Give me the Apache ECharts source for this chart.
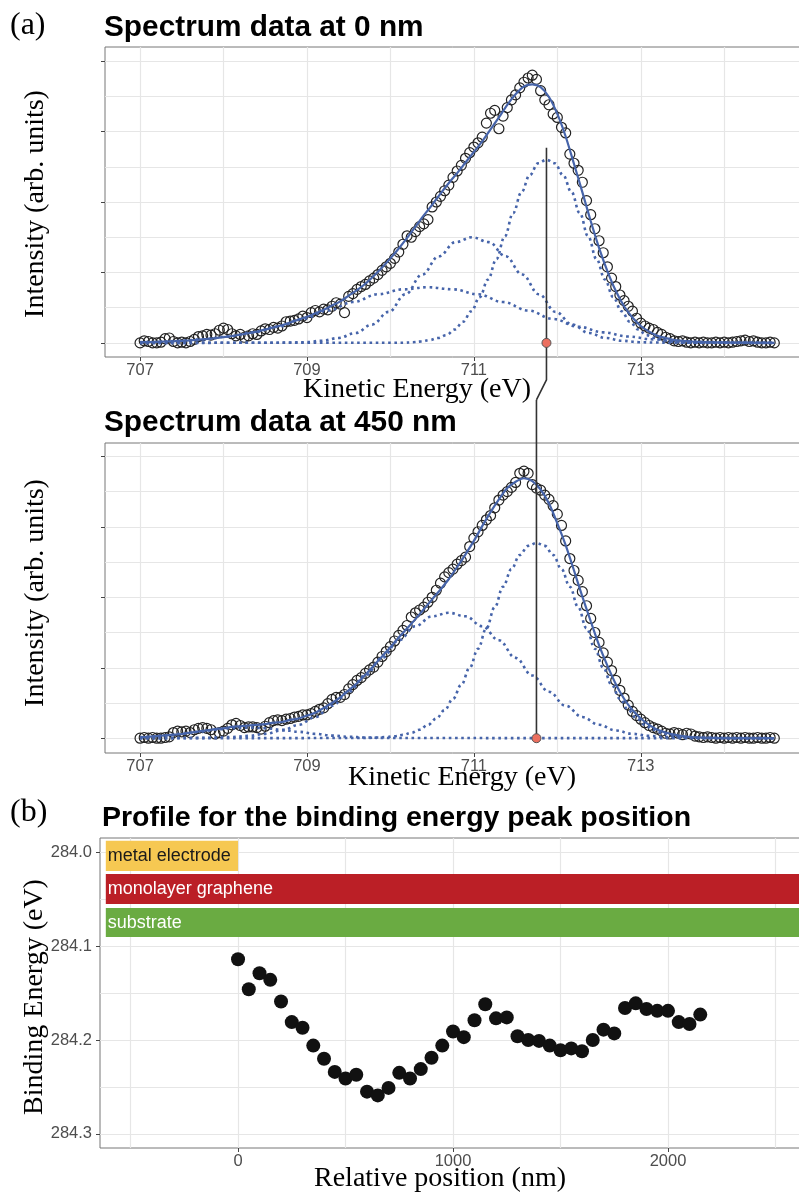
<!DOCTYPE html>
<html><head><meta charset="utf-8">
<script src="https://cdn.jsdelivr.net/npm/echarts@6/dist/echarts.min.js"></script>
<style>html,body{margin:0;padding:0;background:#fff}#c{width:799px;height:1193px}</style>
</head><body><div id="c"></div>
<script>
// ---------------- DATA ----------------
// Panel (a) top: spectrum at 0 nm (intensity in arbitrary units, baseline = 0)
const energyStart = 707.0;
const circleStep = 0.05;
const fitStep = 0.1;
const circles0nm = [0.00,0.03,0.02,0.00,0.00,0.01,0.06,0.07,0.02,0.00,0.01,0.00,0.02,0.05,0.09,0.10,0.12,0.11,0.13,0.18,
0.21,0.19,0.13,0.10,0.12,0.08,0.10,0.13,0.12,0.17,0.20,0.19,0.22,0.21,0.24,0.30,0.31,0.32,0.34,0.38,
0.36,0.43,0.46,0.44,0.48,0.47,0.52,0.57,0.55,0.43,0.66,0.70,0.76,0.80,0.83,0.88,0.92,0.97,1.03,1.08,
1.13,1.20,1.29,1.40,1.52,1.50,1.58,1.65,1.69,1.75,1.93,2.00,2.08,2.16,2.24,2.35,2.44,2.52,2.62,2.70,
2.78,2.84,2.92,3.12,3.26,3.30,3.04,3.22,3.34,3.45,3.52,3.62,3.70,3.76,3.80,3.74,3.58,3.45,3.38,3.25,
3.20,3.06,2.98,2.68,2.55,2.45,2.28,2.02,1.82,1.62,1.45,1.28,1.08,0.92,0.80,0.68,0.60,0.52,0.45,0.35,
0.28,0.24,0.21,0.19,0.15,0.12,0.08,0.06,0.03,0.02,0.03,0.01,0.00,0.01,0.00,0.01,0.00,0.00,0.01,0.00,
0.01,0.00,0.01,0.02,0.03,0.04,0.02,0.03,0.01,0.00,0.00,0.01,0.00];
const fit0nm = [0.01,0.01,0.015,0.02,0.023,0.03,0.037,0.046,0.056,0.068,0.082,0.098,0.116,0.137,0.161,0.188,0.22,0.25,0.29,0.33,
0.37,0.42,0.47,0.53,0.59,0.67,0.75,0.84,0.95,1.07,1.20,1.34,1.49,1.65,1.81,1.96,2.12,2.27,2.41,2.56,
2.71,2.86,3.03,3.20,3.38,3.53,3.64,3.67,3.63,3.49,3.25,2.93,2.54,2.14,1.73,1.35,1.02,0.74,0.52,0.36,
0.24,0.16,0.10,0.07,0.04,0.03,0.02,0.015,0.01,0.008,0.007,0.005,0.004,0.003,0.002,0.002,0.001];
const comp0nmA = [[707.0,0],[710.17,0.003],[710.27,0.01],[710.37,0.02],[710.47,0.04],[710.57,0.07],[710.67,0.11],[710.77,0.19],[710.87,0.30],[710.97,0.45],[711.07,0.65],[711.17,0.90],[711.27,1.19],[711.37,1.51],[711.47,1.84],[711.57,2.14],[711.67,2.38],[711.77,2.55],[711.87,2.60],[711.97,2.55],[712.07,2.38],[712.17,2.14],[712.27,1.84],[712.37,1.51],[712.47,1.19],[712.57,0.90],[712.67,0.65],[712.77,0.45],[712.87,0.30],[712.97,0.19],[713.07,0.11],[713.17,0.07],[713.27,0.04],[713.37,0.02],[713.47,0.01],[713.57,0.003],[714.6,0]];
const comp0nmB = [[707.0,0],[708.58,0.002],[708.78,0.005],[708.98,0.01],[709.18,0.03],[709.38,0.07],[709.58,0.14],[709.78,0.26],[709.98,0.44],[710.18,0.69],[710.38,0.97],[710.58,1.23],[710.78,1.43],[710.98,1.50],[711.18,1.43],[711.38,1.23],[711.58,0.97],[711.78,0.69],[711.98,0.44],[712.18,0.26],[712.38,0.14],[712.58,0.07],[712.78,0.03],[712.98,0.01],[713.18,0.005],[713.38,0.002],[714.6,0]];
const comp0nmC = [[707.0,0.01],[707.15,0.013],[707.45,0.026],[707.75,0.05],[708.05,0.09],[708.35,0.15],[708.65,0.23],[708.95,0.34],[709.25,0.46],[709.55,0.58],[709.85,0.69],[710.15,0.76],[710.45,0.79],[710.75,0.76],[711.05,0.69],[711.35,0.58],[711.65,0.46],[711.95,0.34],[712.25,0.23],[712.55,0.15],[712.85,0.09],[713.15,0.05],[713.45,0.026],[713.75,0.013],[714.05,0.006],[714.35,0.003],[714.6,0.001]];
const peak0nm = 711.87;

// Panel (a) bottom: spectrum at 450 nm
const circles450nm = [0.00,0.01,0.00,0.01,0.00,0.00,0.01,0.02,0.08,0.10,0.09,0.10,0.08,0.12,0.14,0.15,0.14,0.12,0.06,0.08,
0.10,0.14,0.19,0.21,0.18,0.15,0.16,0.16,0.15,0.13,0.17,0.22,0.25,0.26,0.25,0.27,0.28,0.30,0.31,0.33,
0.33,0.35,0.38,0.41,0.43,0.49,0.55,0.58,0.58,0.62,0.70,0.76,0.82,0.86,0.92,0.97,1.01,1.08,1.16,1.23,
1.30,1.38,1.46,1.53,1.60,1.72,1.78,1.82,1.86,1.93,2.00,2.10,2.20,2.29,2.35,2.40,2.47,2.52,2.57,2.72,
2.84,2.93,3.02,3.10,3.16,3.27,3.38,3.45,3.50,3.56,3.63,3.76,3.79,3.76,3.60,3.55,3.52,3.45,3.39,3.30,
3.18,3.02,2.80,2.55,2.38,2.24,2.08,1.88,1.70,1.50,1.36,1.21,1.08,0.96,0.82,0.68,0.57,0.47,0.38,0.32,
0.27,0.22,0.18,0.15,0.13,0.10,0.07,0.06,0.08,0.07,0.05,0.07,0.06,0.03,0.02,0.01,0.02,0.01,0.00,0.01,
0.00,0.01,0.00,0.01,0.00,0.01,0.00,0.00,0.01,0.00,0.00,0.01,0.00];
const fit450nm = [0.014,0.02,0.03,0.04,0.05,0.06,0.08,0.095,0.11,0.13,0.14,0.16,0.17,0.18,0.19,0.20,0.22,0.23,0.26,0.28,
0.32,0.36,0.43,0.50,0.58,0.68,0.78,0.90,1.03,1.16,1.29,1.43,1.56,1.69,1.83,1.97,2.11,2.26,2.43,2.61,
2.80,3.01,3.21,3.39,3.55,3.64,3.69,3.65,3.53,3.33,3.05,2.74,2.38,2.01,1.66,1.32,1.03,0.77,0.56,0.40,
0.28,0.19,0.12,0.08,0.05,0.03,0.017,0.01,0.006,0.003,0.002,0.001,0.001,0,0,0,0];
const comp450nmA = [[707.0,0],[709.55,0.002],[709.75,0.005],[709.85,0.009],[709.95,0.016],[710.05,0.028],[710.15,0.047],[710.25,0.076],[710.35,0.12],[710.45,0.19],[710.55,0.28],[710.65,0.40],[710.75,0.56],[710.85,0.76],[710.95,1.00],[711.05,1.27],[711.15,1.56],[711.25,1.86],[711.35,2.15],[711.45,2.40],[711.55,2.60],[711.65,2.73],[711.75,2.77],[711.85,2.73],[711.95,2.60],[712.05,2.40],[712.15,2.15],[712.25,1.86],[712.35,1.56],[712.45,1.27],[712.55,1.00],[712.65,0.76],[712.75,0.56],[712.85,0.40],[712.95,0.28],[713.05,0.19],[713.15,0.12],[713.25,0.076],[713.35,0.047],[713.45,0.028],[713.55,0.016],[713.65,0.009],[713.75,0.005],[713.95,0.002],[714.6,0]];
const comp450nmB = [[707.0,0],[707.5,0.002],[707.7,0.004],[707.9,0.008],[708.1,0.017],[708.3,0.033],[708.5,0.062],[708.7,0.11],[708.9,0.19],[709.1,0.30],[709.3,0.46],[709.5,0.66],[709.7,0.89],[709.9,1.14],[710.1,1.39],[710.3,1.59],[710.5,1.73],[710.7,1.78],[710.9,1.73],[711.1,1.59],[711.3,1.39],[711.5,1.14],[711.7,0.89],[711.9,0.66],[712.1,0.46],[712.3,0.30],[712.5,0.19],[712.7,0.11],[712.9,0.062],[713.1,0.033],[713.3,0.017],[713.5,0.008],[713.7,0.004],[713.9,0.002],[714.6,0]];
const comp450nmD = [[707.0,0.014],[707.1,0.020],[707.3,0.037],[707.5,0.062],[707.7,0.091],[707.9,0.120],[708.1,0.142],[708.3,0.150],[708.5,0.142],[708.7,0.120],[708.9,0.091],[709.1,0.062],[709.3,0.037],[709.5,0.020],[709.7,0.010],[709.9,0.004],[710.1,0.002],[714.6,0]];
const peak450nm = 711.75;
// connector between the two peak markers (in each panel's own data units)
const connectorTop = [[711.87,2.77],[711.87,-0.525],[711.75,-0.81]];
const connectorBottom = [[711.75,4.80],[711.75,0]];

const energyTicks = [707, 709, 711, 713];
const energyGrid = [707, 708, 709, 710, 711, 712, 713, 714];
const intensityTicks = [0, 1, 2, 3, 4];
const intensityGrid = [0, 0.5, 1, 1.5, 2, 2.5, 3, 3.5, 4];

// Panel (b): binding energy profile
const positions = [0,50,100,150,200,250,300,350,400,450,500,550,600,650,700,750,800,850,900,950,1000,1050,1100,1150,1200,1250,1300,1350,1400,1450,1500,1550,1600,1650,1700,1750,1800,1850,1900,1950,2000,2050,2100,2150];
const bindingEnergy = [284.114,284.146,284.129,284.136,284.159,284.181,284.187,284.206,284.220,284.234,284.241,284.237,284.255,284.259,284.251,284.235,284.241,284.231,284.219,284.206,284.191,284.197,284.179,284.162,284.177,284.176,284.196,284.200,284.201,284.206,284.211,284.209,284.212,284.200,284.189,284.193,284.166,284.161,284.167,284.169,284.169,284.181,284.183,284.173];
const positionTicks = [0, 1000, 2000];
const positionGrid = [-500, 0, 500, 1000, 1500, 2000, 2500];
const bindingTicks = [284.0, 284.1, 284.2, 284.3];
const bindingGrid = [284.0, 284.05, 284.1, 284.15, 284.2, 284.25, 284.3];
const layerNames = ['metal electrode', 'monolayer graphene', 'substrate'];
const layerXStart = [-615, -615, -615];
const layerXEnd = [0, 2700, 2700];
const layerYTop = [283.988, 284.0234, 284.0596];
const layerYBottom = [284.020, 284.0553, 284.0904];

// ---------------- STYLE ----------------
const layerColors = ['#f6c852', '#bb1f26', '#6aab42'];
const layerTextColors = ['#1a1a1a', '#ffffff', '#ffffff'];
const SANS = '"Liberation Sans", Arial, sans-serif';
const SERIF = '"Liberation Serif", "Times New Roman", serif';
const GRIDC = '#e6e6e6';
const BLUE = '#4664aa';

const toPairs = (arr, step) => arr.map((v, i) => [+(energyStart + i * step).toFixed(2), v]);

function mainAxis(gridIndex, pos, min, max, gridVals, labelVals, fmt, extra) {
  return Object.assign({
    gridIndex, type: 'value', position: pos, min, max,
    axisLine: { show: false, onZero: false },
    axisTick: { show: false, customValues: gridVals },
    splitLine: { show: true, lineStyle: { color: GRIDC, width: 1.2 } },
    minorSplitLine: { show: false },
    axisLabel: labelVals ? { show: true, customValues: labelVals, color: '#4d4d4d', fontSize: 16.5, fontFamily: SANS, margin: pos === 'left' ? 8 : 5, formatter: fmt } : { show: false }
  }, extra || {});
}
function tickAxis(gridIndex, pos, min, max, vals, extra) {
  return Object.assign({
    gridIndex, type: 'value', position: pos, min, max,
    axisLine: { show: false, onZero: false },
    axisTick: { show: true, customValues: vals, length: 4, lineStyle: { color: '#444', width: 1 } },
    splitLine: { show: false }, axisLabel: { show: false }
  }, extra || {});
}
const fmtInt = v => String(Math.round(v));
const fmt1 = v => v.toFixed(1);

const eMin = 706.58, eMax = 714.92;
const gridBox = { show: true, borderColor: '#777', borderWidth: 1, backgroundColor: '#fff', outerBoundsMode: 'none', containLabel: false };

function dotted(name, data, xi, yi) {
  return { name, type: 'line', xAxisIndex: xi, yAxisIndex: yi, data, symbol: 'none', smooth: 0.4, smoothMonotone: 'x',
    silent: true, z: 3, lineStyle: { color: BLUE, width: 2.6, type: [2.6, 3.6], cap: 'butt', opacity: 1 } };
}
function circles(name, data, xi, yi) {
  return { name, type: 'scatter', xAxisIndex: xi, yAxisIndex: yi, data, symbol: 'circle', symbolSize: 10, silent: true, z: 2,
    itemStyle: { color: 'rgba(255,255,255,0)', borderColor: '#222', borderWidth: 1.2, opacity: 1 } };
}
function fitLine(name, data, xi, yi) {
  return { name, type: 'line', xAxisIndex: xi, yAxisIndex: yi, data, symbol: 'none', smooth: 0.3, silent: true, z: 4,
    lineStyle: { color: BLUE, width: 2.2, opacity: 1 } };
}
function connector(data, xi, yi) {
  return { type: 'line', xAxisIndex: xi, yAxisIndex: yi, data, symbol: 'none', clip: false, silent: true, z: 5,
    lineStyle: { color: '#333', width: 1.6, opacity: 1 } };
}
function peakDot(x, xi, yi) {
  return { type: 'scatter', xAxisIndex: xi, yAxisIndex: yi, data: [[x, 0]], symbolSize: 9, silent: true, z: 6,
    itemStyle: { color: '#ec6f5f', borderColor: '#555', borderWidth: 1, opacity: 1 } };
}

function txt(text, x, y, font, opts) {
  opts = opts || {};
  return { type: 'text', x, y, rotation: opts.rot || 0, silent: true, z: 100,
    style: { text, font, fill: '#000', textAlign: opts.align || 'left', align: opts.align || 'left', textVerticalAlign: 'middle', verticalAlign: 'middle' } };
}

const option = {
  animation: false,
  backgroundColor: '#fff',
  grid: [
    Object.assign({ left: 105, top: 47, width: 696, height: 310 }, gridBox),
    Object.assign({ left: 105, top: 443, width: 696, height: 310 }, gridBox),
    Object.assign({ left: 100, top: 838, width: 701, height: 310 }, gridBox)
  ],
  xAxis: [
    mainAxis(0, 'bottom', eMin, eMax, energyGrid, energyTicks, fmtInt),
    tickAxis(0, 'bottom', eMin, eMax, energyTicks),
    mainAxis(1, 'bottom', eMin, eMax, energyGrid, energyTicks, fmtInt),
    tickAxis(1, 'bottom', eMin, eMax, energyTicks),
    mainAxis(2, 'bottom', -642, 2618.6, positionGrid, positionTicks, fmtInt, {}),
    tickAxis(2, 'bottom', -642, 2618.6, positionTicks)
  ],
  yAxis: [
    mainAxis(0, 'left', -0.2, 4.2, intensityGrid, null),
    tickAxis(0, 'left', -0.2, 4.2, intensityTicks),
    mainAxis(1, 'left', -0.21, 4.19, intensityGrid, null),
    tickAxis(1, 'left', -0.21, 4.19, intensityTicks),
    mainAxis(2, 'left', 283.985, 284.315, bindingGrid, bindingTicks, fmt1, { inverse: true }),
    tickAxis(2, 'left', 283.985, 284.315, bindingTicks, { inverse: true })
  ],
  series: [
    circles('data 0 nm', toPairs(circles0nm, circleStep), 0, 0),
    dotted('comp A 0 nm', comp0nmA, 0, 0),
    dotted('comp B 0 nm', comp0nmB, 0, 0),
    dotted('comp C 0 nm', comp0nmC, 0, 0),
    fitLine('fit 0 nm', toPairs(fit0nm, fitStep), 0, 0),
    connector(connectorTop, 0, 0),
    peakDot(peak0nm, 0, 0),

    circles('data 450 nm', toPairs(circles450nm, circleStep), 2, 2),
    dotted('comp A 450 nm', comp450nmA, 2, 2),
    dotted('comp B 450 nm', comp450nmB, 2, 2),
    dotted('comp D 450 nm', comp450nmD, 2, 2),
    fitLine('fit 450 nm', toPairs(fit450nm, fitStep), 2, 2),
    connector(connectorBottom, 2, 2),
    peakDot(peak450nm, 2, 2),

    {
      name: 'profile', type: 'scatter', xAxisIndex: 4, yAxisIndex: 4, silent: true, z: 3,
      data: positions.map((p, i) => [p, bindingEnergy[i]]),
      symbolSize: 14, itemStyle: { color: '#111111', opacity: 1 },
      markArea: {
        silent: true,
        data: layerNames.map((n, i) => [
          { name: n, xAxis: layerXStart[i], yAxis: layerYTop[i], itemStyle: { color: layerColors[i], opacity: 1 },
            label: { show: true, position: 'insideLeft', distance: 2, color: layerTextColors[i], fontSize: 18, fontFamily: SANS } },
          { xAxis: layerXEnd[i], yAxis: layerYBottom[i] }
        ])
      }
    }
  ],
  graphic: [
    txt('(a)', 10, 26, '32px ' + SERIF),
    txt('Spectrum data at 0 nm', 104, 28, 'bold 29.8px ' + SANS),
    txt('Intensity (arb. units)', 36, 204, '28px ' + SERIF, { rot: Math.PI / 2, align: 'center' }),
    txt('Kinetic Energy (eV)', 417, 390, '28px ' + SERIF, { align: 'center' }),
    txt('Spectrum data at 450 nm', 104, 423, 'bold 29.8px ' + SANS),
    txt('Intensity (arb. units)', 36, 593, '28px ' + SERIF, { rot: Math.PI / 2, align: 'center' }),
    txt('Kinetic Energy (eV)', 462, 778, '28px ' + SERIF, { align: 'center' }),
    txt('(b)', 10, 813, '32px ' + SERIF),
    txt('Profile for the binding energy peak position', 102, 818, 'bold 28.5px ' + SANS),
    txt('Binding Energy (eV)', 35, 997, '28px ' + SERIF, { rot: Math.PI / 2, align: 'center' }),
    txt('Relative position (nm)', 440, 1179, '28px ' + SERIF, { align: 'center' })
  ]
};

const chart = echarts.init(document.getElementById('c'), null, { renderer: 'canvas' });
chart.setOption(option);
</script></body></html>
